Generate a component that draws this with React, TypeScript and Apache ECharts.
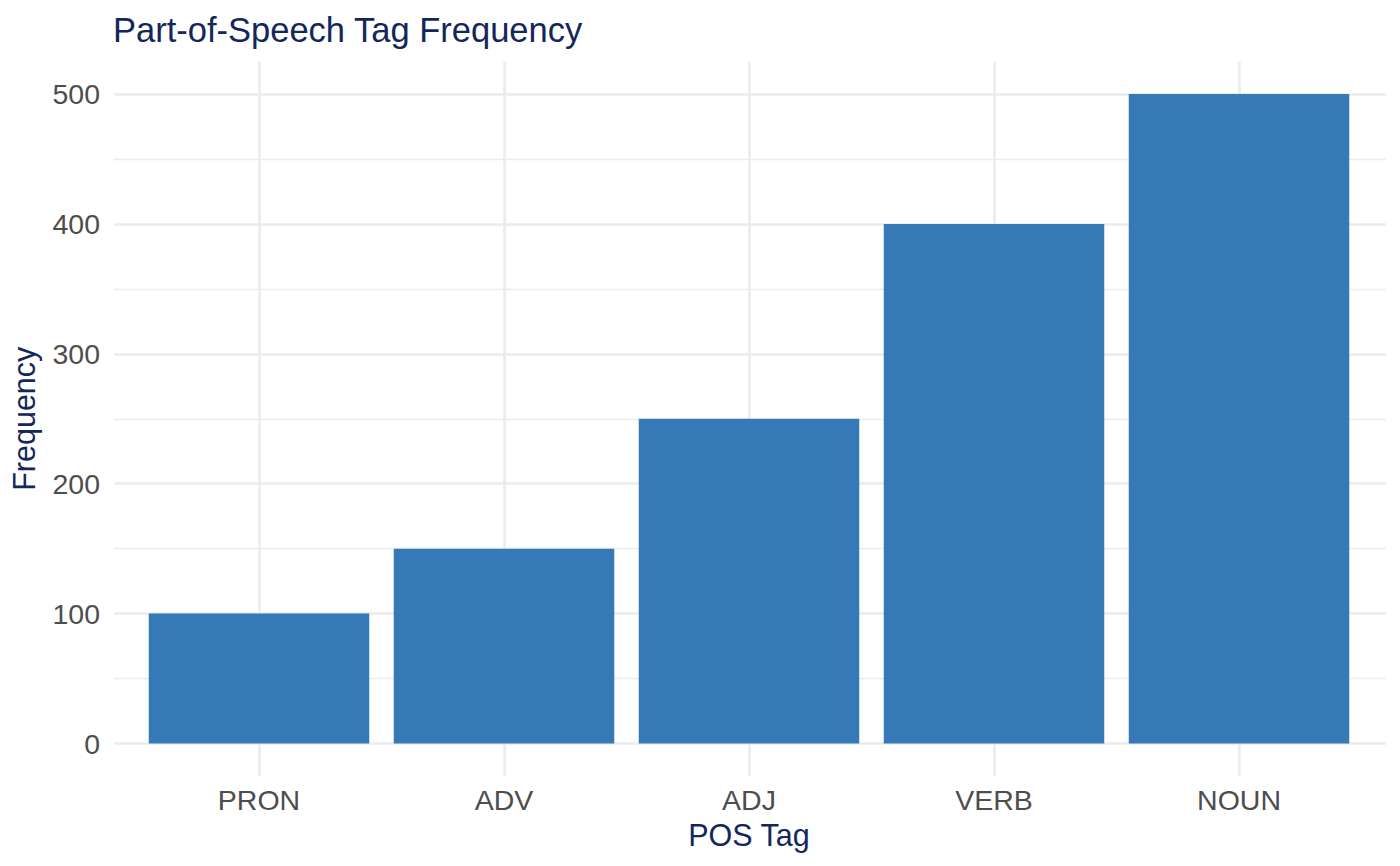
import React, { useEffect, useRef } from "react";
import * as echarts from "echarts";

const categories = ["PRON", "ADV", "ADJ", "VERB", "NOUN"];
const frequencies = [100, 150, 250, 400, 500];
const yTicks = [0, 100, 200, 300, 400, 500];

const FONT = "'Liberation Sans', Arial, Helvetica, sans-serif";
const NAVY = "#13275a";
const TICK = "#4d4d4d";
const GRID = "#ebebeb";
const BAR = "#3579b6";

export default function App() {
  const ref = useRef<HTMLDivElement>(null);
  useEffect(() => {
    document.body.style.margin = "0";
    if (!ref.current) return;
    const chart = echarts.init(ref.current, undefined, { renderer: "svg" });
    chart.setOption({
      animation: false,
      backgroundColor: "#ffffff",
      textStyle: { fontFamily: FONT },
      title: {
        text: "Part-of-Speech Tag Frequency",
        left: 113,
        top: 12,
        padding: 0,
        textStyle: { fontFamily: FONT, fontSize: 34.5, fontWeight: "normal", color: NAVY },
      },
      grid: [
        { left: 136.5, right: 38.5, top: 94, bottom: 122.5 },
        { left: 112, right: 14, top: 94, bottom: 122.5 },
        { left: 259, right: 161, top: 61.5, bottom: 90 },
      ],
      xAxis: [
        {
          type: "category",
          gridIndex: 0,
          data: categories,
          axisLine: { show: false },
          axisTick: { show: false },
          splitLine: { show: false },
          axisLabel: { fontFamily: FONT, fontSize: 28.5, color: TICK, margin: 42 },
          name: "POS Tag",
          nameLocation: "middle",
          nameGap: 76,
          nameTextStyle: { fontFamily: FONT, fontSize: 30.5, color: NAVY },
          z: 3,
        },
        { type: "value", gridIndex: 1, show: false },
        {
          type: "category",
          gridIndex: 2,
          data: categories,
          boundaryGap: false,
          axisLine: { show: false },
          axisTick: { show: false },
          axisLabel: { show: false },
          splitLine: { show: true, lineStyle: { color: GRID, width: 2.6 } },
        },
      ],
      yAxis: [
        { type: "value", gridIndex: 0, min: 0, max: 500, show: false },
        {
          type: "value",
          gridIndex: 1,
          min: yTicks[0],
          max: yTicks[yTicks.length - 1],
          interval: 100,
          axisLine: { show: false },
          axisTick: { show: false },
          axisLabel: { fontFamily: FONT, fontSize: 28.5, color: TICK, margin: 14 },
          splitLine: { show: true, lineStyle: { color: GRID, width: 2.6 } },
          minorTick: { show: false, splitNumber: 2 },
          minorSplitLine: { show: true, lineStyle: { color: GRID, width: 1.3 } },
          name: "Frequency",
          nameLocation: "middle",
          nameGap: 75,
          nameTextStyle: { fontFamily: FONT, fontSize: 30.5, color: NAVY },
        },
        { type: "value", gridIndex: 2, show: false },
      ],
      series: [
        {
          type: "bar",
          xAxisIndex: 0,
          yAxisIndex: 0,
          data: frequencies,
          barWidth: "90%",
          itemStyle: { color: BAR },
          z: 5,
        },
      ],
    });
    return () => chart.dispose();
  }, []);
  return <div ref={ref} style={{ width: 1400, height: 866 }} />;
}
